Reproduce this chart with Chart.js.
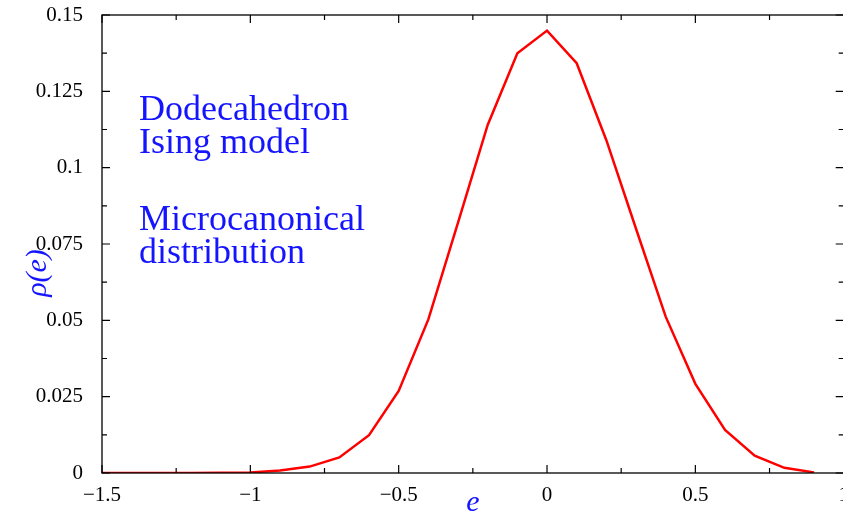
<!DOCTYPE html>
<html>
<head>
<meta charset="utf-8">
<script src="https://cdn.jsdelivr.net/npm/chart.js@4"></script>
<style>
  html, body { margin: 0; padding: 0; background: #fff; overflow: hidden; }
  canvas { display: block; }
</style>
</head>
<body>
<canvas id="chart" width="852" height="518" style="width:852px;height:518px"></canvas>
<script>
// energy per spin and microcanonical density
const energies = [-1.5, -1.4, -1.3, -1.2, -1.1, -1.0, -0.9, -0.8, -0.7, -0.6, -0.5, -0.4, -0.3,
  -0.2, -0.1, 0, 0.1, 0.2, 0.3, 0.4, 0.5, 0.6, 0.7, 0.8, 0.9];
const density = [0, 0, 0, 0.00002, 0.00008, 0.0002, 0.0008, 0.0021, 0.0051, 0.0124, 0.0269,
  0.0503, 0.082, 0.114, 0.1375, 0.1449, 0.1342, 0.109, 0.08, 0.0512, 0.0292, 0.0141,
  0.0057, 0.0017, 0.0002];

const xTicks = [-1.5, -1, -0.5, 0, 0.5, 1];
const yTicks = [0, 0.025, 0.05, 0.075, 0.1, 0.125, 0.15];
const notes = [["Dodecahedron", "Ising model"], ["Microcanonical", "distribution"]];

const serif = '"Liberation Serif", "DejaVu Serif", serif';
const blue = "#1414ff";

function fmt(v) {
  let s = String(Math.round(v * 1000) / 1000);
  return s.replace("-", "\u2212");
}

function noPad(s) {
  s.paddingLeft = 0; s.paddingRight = 0; s.paddingTop = 0; s.paddingBottom = 0;
}

// frame, inward ticks, labels
const decor = {
  id: "decor",
  afterDraw(chart) {
    const c = chart.ctx;
    const a = chart.chartArea;
    const xs = chart.scales.x;
    const ys = chart.scales.y;
    c.save();
    c.strokeStyle = "#000";
    c.lineWidth = 1.3;
    c.strokeRect(a.left, a.top, a.right - a.left, a.bottom - a.top);
    c.lineWidth = 1.2;
    c.beginPath();
    for (let v = -1.5; v <= 1.0001; v += 0.25) {
      const px = xs.getPixelForValue(v);
      const len = Math.abs(v * 2 - Math.round(v * 2)) < 0.01 ? 8 : 5;
      c.moveTo(px, a.bottom); c.lineTo(px, a.bottom - len);
      c.moveTo(px, a.top); c.lineTo(px, a.top + len);
    }
    for (let i = 0; i <= 12; i++) {
      const v = i * 0.0125;
      const py = ys.getPixelForValue(v);
      const len = i % 2 === 0 ? 8 : 5;
      c.moveTo(a.left, py); c.lineTo(a.left + len, py);
      c.moveTo(a.right, py); c.lineTo(a.right - len, py);
    }
    c.stroke();

    c.fillStyle = blue;
    c.font = "36px " + serif;
    c.textBaseline = "alphabetic";
    c.textAlign = "left";
    c.fillText(notes[0][0], 139, 120);
    c.fillText(notes[0][1], 139, 153);
    c.fillText(notes[1][0], 139, 230);
    c.fillText(notes[1][1], 139, 263);

    c.font = "italic 30px " + serif;
    c.textAlign = "center";
    c.textBaseline = "middle";
    c.fillText("e", 473, 503);
    c.translate(38, 273);
    c.rotate(-Math.PI / 2);
    c.fillText("\u03c1(e)", 0, 0);
    c.restore();
  }
};

new Chart(document.getElementById("chart"), {
  type: "line",
  data: {
    datasets: [{
      data: energies.map((e, i) => ({ x: e, y: density[i] })),
      borderColor: "#ff0000",
      borderWidth: 2.5,
      pointRadius: 0,
      tension: 0,
      fill: false
    }]
  },
  options: {
    responsive: false,
    devicePixelRatio: 1,
    animation: false,
    layout: { padding: { left: 0, right: 8.3, top: 15, bottom: 0 } },
    plugins: { legend: { display: false }, tooltip: { enabled: false } },
    scales: {
      x: {
        type: "linear",
        min: -1.5,
        max: 1,
        afterBuildTicks(s) { s.ticks = xTicks.map(v => ({ value: v })); },
        afterFit(s) { s.height = 45; noPad(s); },
        grid: { display: false, drawTicks: false },
        border: { display: false },
        ticks: { color: "#000", font: { family: serif, size: 21 }, padding: 10, callback: fmt, maxRotation: 0 }
      },
      y: {
        min: 0,
        max: 0.15,
        afterBuildTicks(s) { s.ticks = yTicks.map(v => ({ value: v })); },
        afterFit(s) { s.width = 102; noPad(s); },
        grid: { display: false, drawTicks: false },
        border: { display: false },
        ticks: { color: "#000", font: { family: serif, size: 21 }, padding: 19, callback: fmt }
      }
    }
  },
  plugins: [decor]
});
</script>
</body>
</html>
